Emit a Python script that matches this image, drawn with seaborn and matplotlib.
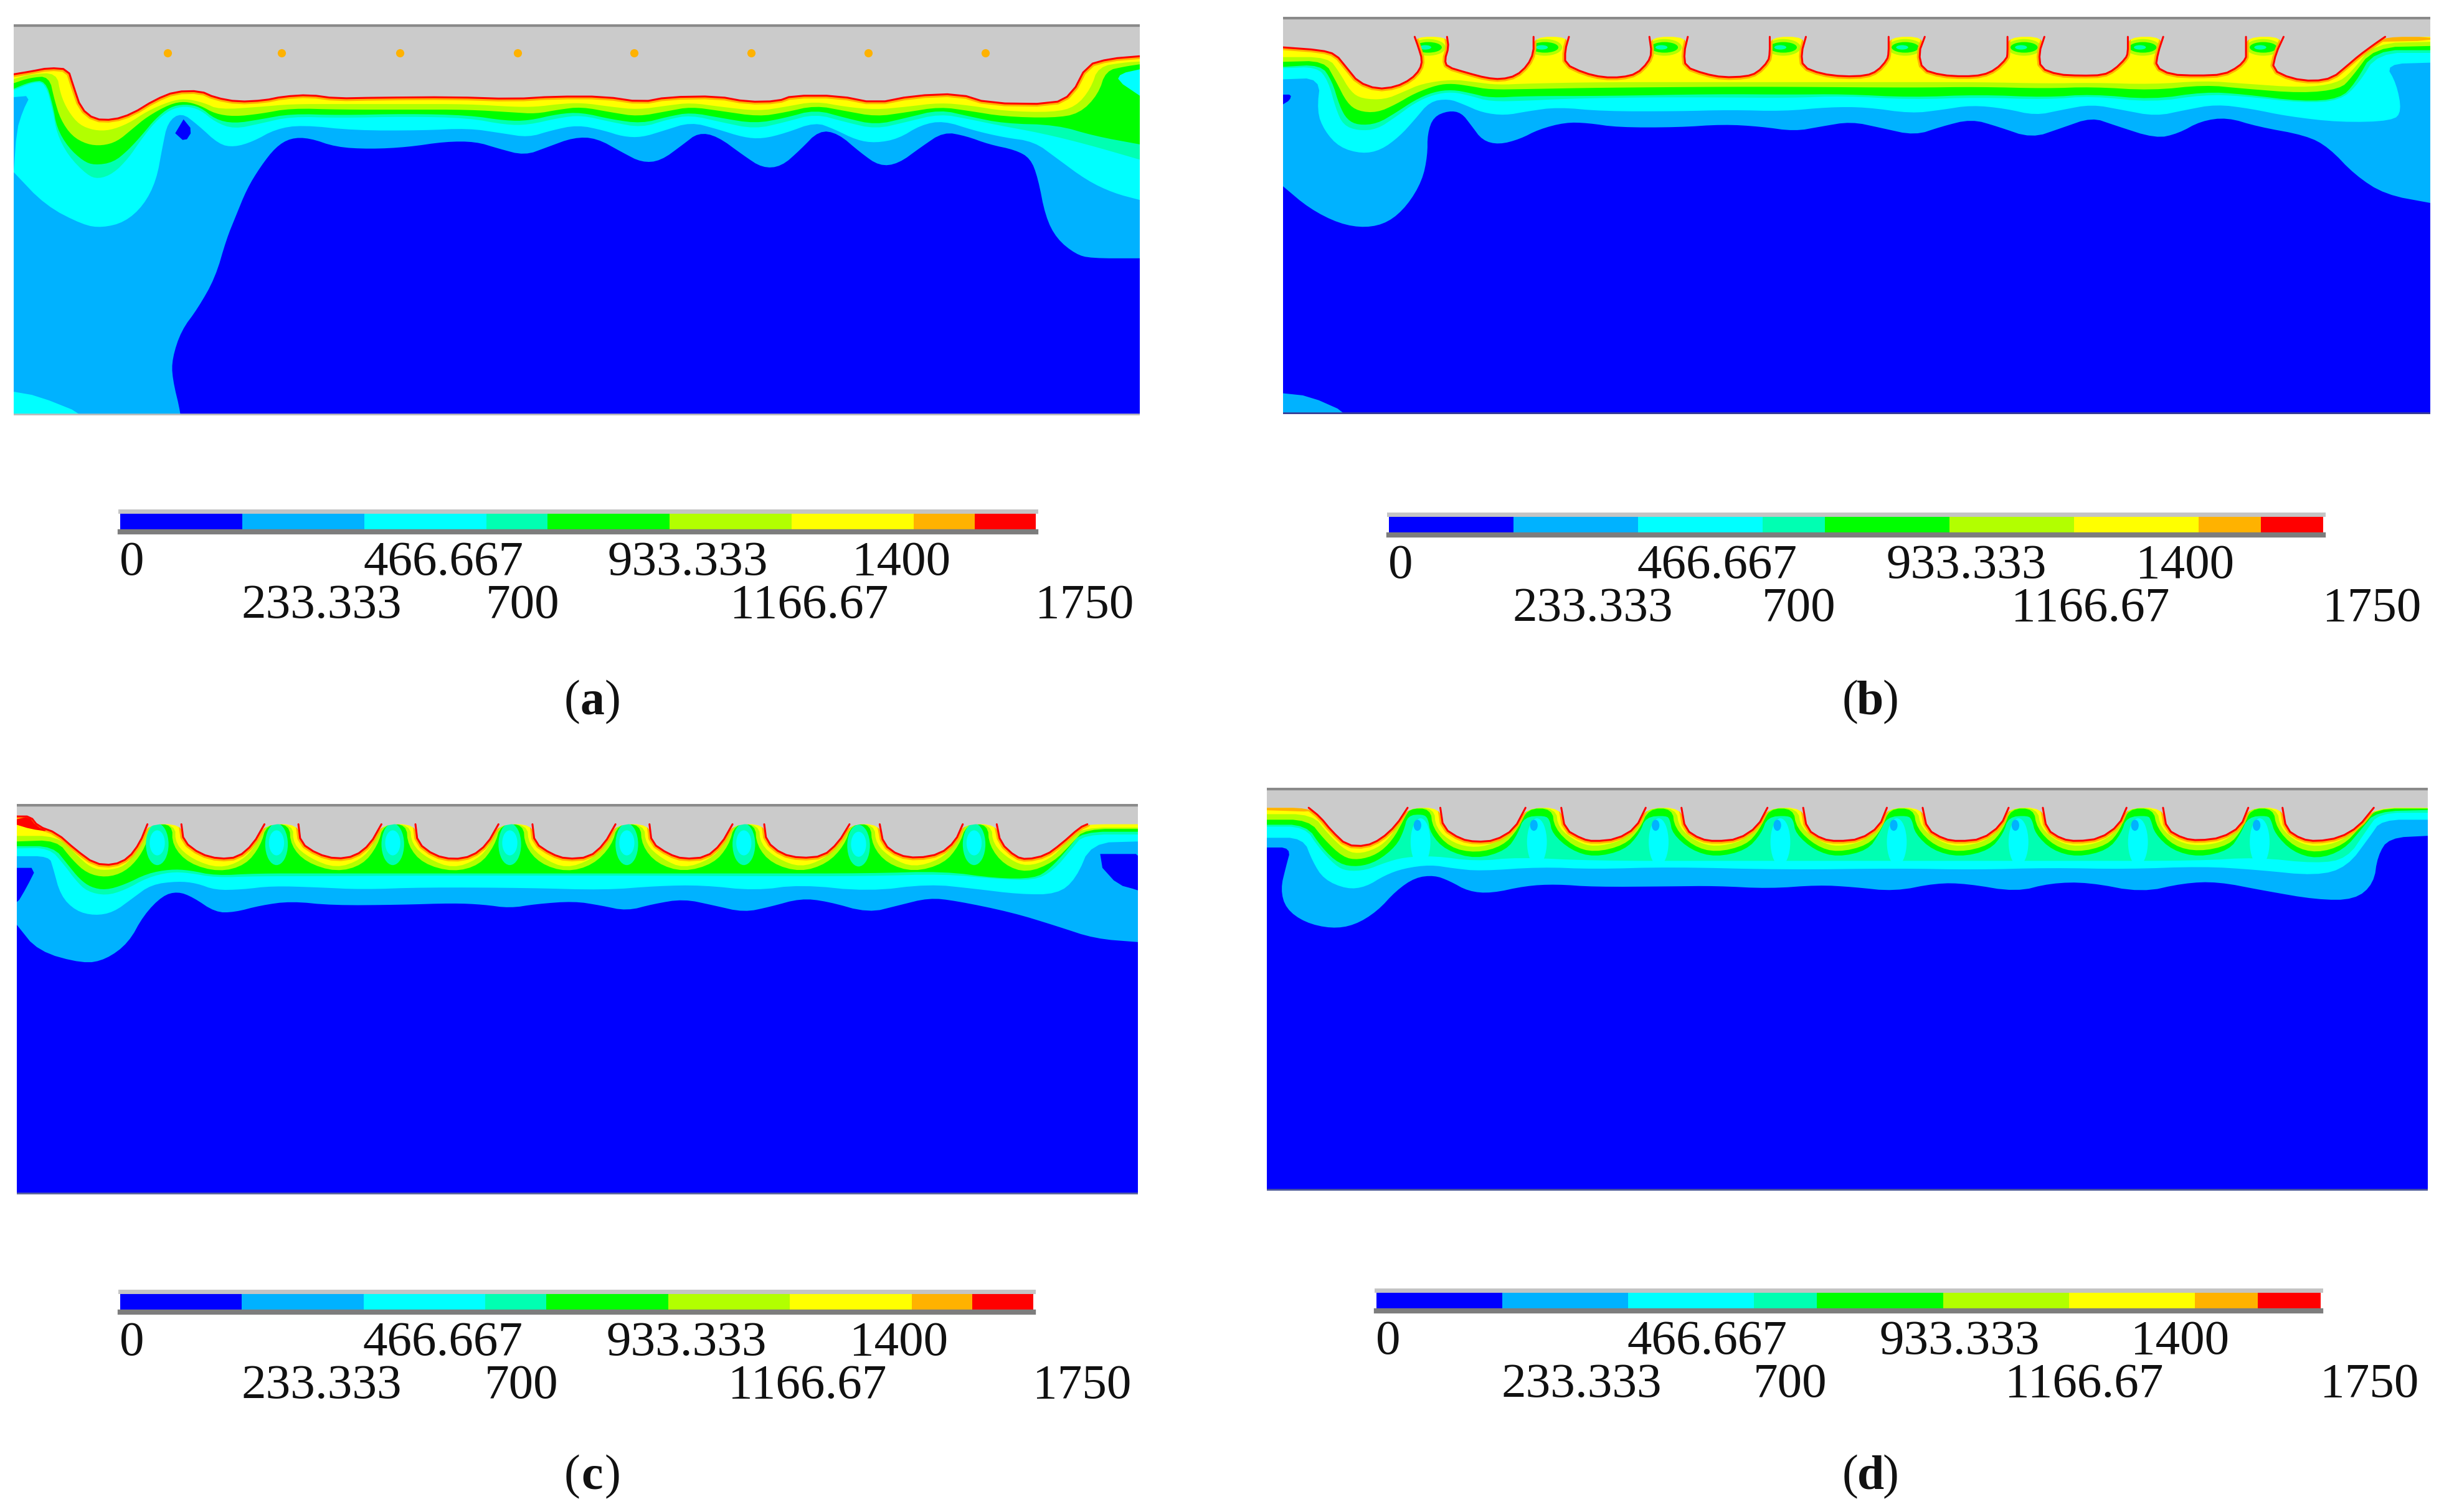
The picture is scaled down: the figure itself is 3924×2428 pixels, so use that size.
import numpy as np
import pandas as pd
import seaborn as sns
import matplotlib.pyplot as plt
from matplotlib.colors import ListedColormap
from matplotlib.patches import Ellipse

# colour bar
BAR_COLORS = ["#0000ff", "#00b2ff", "#00ffff", "#00ffb2", "#00ff00", "#b2ff00", "#ffff00", "#ffb200", "#ff0000"]
BAR_CELLS = [0, 0, 1, 1, 2, 2, 3, 4, 4, 5, 5, 6, 6, 7, 8]
BAR_VALUES_ROW1 = [0, 466.667, 933.333, 1400]
BAR_VALUES_ROW2 = [233.333, 700, 1166.67, 1750]
BAR_LABELS_ROW1 = ["0", "466.667", "933.333", "1400"]
BAR_LABELS_ROW2 = ["233.333", "700", "1166.67", "1750"]
BAR_MAX = 1750
PANEL_NAMES = ["a", "b", "c", "d"]

# panel a, contour boundaries (x along domain, depth)
A_BLUE = [(18,1560),(240,1560),(240,1495),(228,1360),(228,1290),(240,1190),(262,1110),(285,1000),(300,860),(312,780),(327,680),(345,600),(365,530),(385,497),(410,497),(445,530),(490,537),(540,530),(590,510),(630,510),(660,535),(695,560),(725,530),(760,495),(790,497),(825,550),(850,585),(875,580),(905,520),(925,478),(950,490),(985,560),(1010,605),(1035,600),(1060,540),(1085,470),(1110,480),(1140,550),(1165,598),(1190,590),(1220,530),(1250,475),(1280,490),(1310,520),(1345,540),(1365,570),(1375,640),(1385,780),(1400,860),(1425,915),(1445,930),(1510,930)]
A_CYAN = [(18,620),(60,740),(110,810),(135,820),(165,800),(190,740),(207,650),(215,530),(222,440),(240,405),(262,450),(290,520),(310,530),(335,510),(365,465),(400,450),(470,470),(560,470),(620,462),(665,480),(700,495),(730,470),(765,450),(800,470),(825,492),(850,495),(880,470),(915,440),(950,465),(985,495),(1010,500),(1040,480),(1080,440),(1105,465),(1135,505),(1160,515),(1190,500),(1220,450),(1250,435),(1290,470),(1330,495),(1370,510),(1400,570),(1440,650),(1475,695),(1510,720)]
A_AQUA = [(18,325),(45,295),(60,300),(70,400),(75,480),(90,560),(115,630),(130,645),(150,625),(170,570),(185,510),(205,440),(225,395),(245,382),(265,395),(285,440),(310,465),(345,445),(385,420),(450,425),(540,420),(620,425),(670,450),(700,450),(740,425),(770,415),(810,440),(850,460),(885,430),(915,415),(955,440),(1000,465),(1040,440),(1080,410),(1120,440),(1160,465),(1200,440),(1245,410),(1285,430),(1320,450),(1380,480),(1440,520),(1510,575)]
A_GREEN = [(18,320),(40,295),(60,290),(70,380),(75,460),(90,530),(110,580),(125,595),(150,585),(170,540),(190,480),(205,430),(225,385),(245,375),(265,385),(285,430),(310,445),(345,430),(385,410),(450,415),(540,410),(620,415),(670,435),(700,435),(740,410),(770,405),(810,430),(850,445),(885,420),(915,405),(955,425),(1000,445),(1040,425),(1080,395),(1120,425),(1160,450),(1200,425),(1245,395),(1285,420),(1330,445),(1400,450),(1450,490),(1510,520)]
A_LIME = [(18,300),(40,280),(65,275),(72,360),(80,430),(95,490),(115,520),(135,525),(155,510),(175,465),(195,420),(225,375),(245,365),(265,380),(285,410),(310,420),(345,410),(385,390),(450,395),(540,395),(620,395),(680,405),(710,410),(740,395),(770,385),(810,405),(845,420),(885,400),(915,385),(955,400),(1005,420),(1040,405),(1080,380),(1120,400),(1160,420),(1200,405),(1245,385),(1285,400),(1330,420),(1395,425),(1430,410),(1455,340),(1465,255),(1490,240),(1510,232)]
A_YELLOW = [(18,285),(40,268),(75,262),(80,340),(90,400),(105,450),(125,470),(145,470),(170,445),(195,400),(225,365),(245,355),(270,370),(290,395),(345,385),(385,375),(450,375),(540,375),(620,375),(680,385),(710,385),(740,375),(770,370),(810,385),(845,395),(885,380),(915,370),(955,385),(1005,400),(1040,385),(1080,365),(1120,385),(1160,395),(1200,385),(1245,370),(1285,380),(1330,400),(1395,405),(1425,385),(1445,320),(1455,240),(1490,225),(1510,222)]
A_SURFACE = [(18,268),(40,258),(65,245),(90,250),(97,310),(107,390),(125,430),(150,432),(175,410),(205,360),(232,330),(265,328),(285,352),(315,367),(350,362),(375,348),(410,342),(445,355),(500,352),(600,350),(680,357),(735,348),(800,348),(850,368),(885,350),(950,347),(990,367),(1030,365),(1050,345),(1110,345),(1160,372),(1210,345),(1270,338),(1310,372),(1395,375),(1420,340),(1440,235),(1470,212),(1510,203)]
A_PATCHES = [
    (1, [(18,350),(40,345),(30,400),(22,470),(18,620)]),
    (2, [(1510,250),(1485,265),(1480,290),(1510,345)]),
    (2, [(18,1410),(50,1425),(110,1490),(110,1530),(18,1530)]),
    (0, [(243,430),(255,470),(245,512),(232,480)]),
]
A_DOTS_X = [222, 373, 530, 686, 840, 995, 1150, 1305]
A_DOTS_Y = [192, 192, 192, 192, 192, 192, 192, 192]

# panel b
B_BLUE = [(25,670),(60,750),(100,805),(135,820),(165,800),(190,740),(210,650),(217,560),(217,480),(225,420),(245,398),(262,405),(275,450),(290,505),(312,520),(340,500),(365,465),(400,440),(430,442),(470,458),(550,458),(610,447),(660,455),(705,472),(740,455),(780,437),(820,460),(865,487),(900,455),(940,428),(975,455),(1020,497),(1060,460),(1100,422),(1130,450),(1185,498),(1215,480),(1245,435),(1280,422),(1320,455),(1385,487),(1415,530),(1450,630),(1490,700),(1550,730)]
B_CYAN = [(25,285),(75,280),(70,400),(80,470),(100,530),(130,553),(155,540),(180,490),(200,430),(220,365),(245,355),(265,375),(290,405),(320,415),(350,400),(390,385),(450,400),(550,400),(620,395),(690,400),(750,385),(800,385),(860,408),(900,395),(940,378),(985,390),(1025,415),(1060,395),(1100,375),(1140,395),(1185,418),(1225,395),(1265,375),(1310,390),(1360,418),(1430,440),(1500,435),(1512,400),(1505,300),(1490,230),(1550,225)]
B_AQUA = [(25,245),(70,240),(85,290),(95,390),(105,450),(125,470),(150,465),(175,420),(200,370),(225,340),(250,330),(275,345),(300,365),(350,362),(400,355),(500,350),(600,350),(700,352),(770,345),(860,358),(950,350),(1040,358),(1100,345),(1180,368),(1250,340),(1300,345),(1380,370),(1430,362),(1455,300),(1480,190),(1550,190)]
B_GREEN = [(25,240),(75,232),(90,290),(100,380),(110,430),(125,450),(150,445),(175,405),(200,360),(225,330),(250,322),(275,335),(300,352),(350,345),(450,345),(600,338),(700,340),(770,338),(860,350),(950,340),(1040,350),(1100,338),(1180,358),(1250,330),(1300,338),(1380,365),(1430,355),(1450,300),(1475,180),(1550,180)]
B_LIME = [(25,222),(80,218),(95,290),(110,370),(125,400),(150,405),(175,375),(200,335),(230,305),(250,300),(275,310),(300,322),(350,320),(450,315),(600,312),(700,312),(860,315),(950,312),(1040,318),(1100,312),(1180,325),(1250,305),(1300,318),(1380,335),(1430,320),(1445,280),(1475,170),(1550,165)]
B_YELLOW = [(25,205),(85,205),(100,260),(115,330),(130,355),(160,358),(185,330),(210,300),(250,285),(280,295),(310,305),(350,300),(450,295),(600,295),(700,295),(860,295),(950,295),(1040,300),(1100,297),(1180,303),(1250,290),(1300,300),(1380,315),(1425,300),(1445,260),(1475,155),(1550,150)]
B_SURFACE = [(25,170),(75,180),(95,195),(110,245),(125,295),(150,320),(175,312),(195,285),(207,250),(210,215),(205,170),(200,132),(243,132),(245,170),(240,215),(243,240),(270,262),(295,280),(315,285),(335,272),(350,235),(358,190),(358,132),(405,132),(400,180),(400,230),(425,262),(450,278),(475,278),(495,265),(510,225),(515,190),(512,132),(563,132),(558,190),(560,240),(585,265),(610,278),(640,275),(655,262),(670,220),(672,190),(672,132),(720,132),(714,190),(716,240),(740,265),(770,275),(800,272),(815,255),(828,215),(830,190),(830,132),(878,132),(870,190),(875,250),(900,270),(930,275),(955,270),(972,250),(987,210),(988,190),(988,132),(1037,132),(1030,190),(1032,245),(1055,268),(1085,272),(1115,270),(1130,250),(1145,210),(1148,190),(1148,132),(1195,132),(1188,190),(1185,240),(1205,268),(1240,272),(1275,268),(1295,240),(1305,210),(1305,190),(1305,132),(1355,132),(1345,190),(1340,250),(1365,282),(1395,292),(1420,280),(1440,235),(1455,200),(1475,160),(1490,132),(1550,132)]
B_PATCHES = [
    (0, [(25,340),(36,340),(34,360),(25,375)]),
    (1, [(25,1415),(60,1425),(110,1485),(110,1530),(25,1530)]),
    (7, [(1490,132),(1550,132),(1550,146),(1482,150)]),
]
B_POST_X = [218, 373, 532, 690, 852, 1010, 1168, 1328]
B_POST_Y = [170, 170, 170, 170, 170, 170, 170, 170]

# panel c
C_BLUE = [(22,505),(50,600),(110,645),(140,630),(170,570),(190,470),(215,400),(235,385),(255,405),(285,460),(310,460),(345,435),(385,420),(440,435),(530,433),(600,427),(640,432),(675,445),(710,430),(760,420),(795,435),(830,455),(865,430),(905,412),(945,435),(985,460),(1020,440),(1060,410),(1095,420),(1150,462),(1190,435),(1230,408),(1265,418),(1340,460),(1400,510),(1450,555),(1507,567)]
C_CYAN = [(22,258),(65,258),(70,300),(80,400),(100,455),(125,472),(150,460),(175,410),(200,360),(235,348),(260,355),(285,380),(320,378),(360,365),(420,370),(480,378),(560,370),(700,372),(800,380),(870,365),(930,362),(1000,382),(1060,360),(1150,385),(1230,358),(1290,375),(1350,395),(1400,395),(1425,340),(1445,210),(1507,205)]
C_AQUA = [(22,230),(65,228),(85,290),(100,345),(115,385),(140,400),(165,380),(195,335),(225,315),(250,318),(285,335),(340,330),(420,330),(550,328),(700,328),(850,328),(1000,330),(1150,330),(1250,322),(1320,340),(1370,345),(1395,310),(1420,230),(1435,180),(1507,180)]
C_GREEN = [(22,222),(70,222),(90,290),(105,340),(120,370),(140,380),(165,360),(195,320),(225,305),(250,308),(285,328),(340,320),(420,320),(550,320),(700,320),(850,320),(1000,320),(1150,320),(1250,312),(1320,338),(1370,338),(1390,305),(1415,230),(1432,170),(1507,170)]
C_LIME = [(22,205),(75,200),(95,270),(115,320),(140,335),(165,315),(185,260),(197,190),(200,143),(228,143),(228,220),(250,285),(290,315),(325,290),(345,220),(353,143),(383,143),(385,220),(405,280),(445,315),(480,290),(500,220),(508,143),(538,143),(540,220),(560,285),(600,315),(635,290),(655,220),(663,143),(693,143),(695,220),(715,285),(750,315),(785,290),(810,220),(818,143),(848,143),(850,220),(870,285),(905,315),(945,285),(965,220),(973,143),(1000,143),(1002,220),(1022,285),(1060,315),(1095,285),(1118,220),(1128,143),(1153,143),(1155,220),(1175,285),(1210,315),(1250,285),(1270,220),(1280,143),(1308,143),(1310,220),(1330,290),(1360,318),(1395,280),(1420,210),(1437,160),(1507,160)]
C_YELLOW = [(22,185),(75,185),(100,250),(120,300),(140,310),(165,295),(180,240),(190,180),(193,143),(232,143),(232,215),(255,270),(290,302),(320,275),(340,215),(348,143),(388,143),(388,215),(410,265),(445,302),(478,270),(495,215),(503,143),(543,143),(545,215),(567,268),(600,302),(632,270),(650,215),(658,143),(698,143),(700,215),(720,268),(750,302),(783,270),(805,215),(813,143),(853,143),(855,215),(877,268),(905,302),(940,270),(960,215),(968,143),(1005,143),(1007,215),(1030,268),(1060,298),(1090,270),(1113,215),(1123,143),(1158,143),(1160,215),(1182,268),(1210,298),(1245,270),(1265,215),(1273,143),(1313,143),(1315,215),(1338,272),(1360,295),(1390,270),(1412,210),(1432,155),(1507,155)]
C_SURFACE = [(22,115),(40,115),(50,150),(75,175),(100,235),(125,285),(150,290),(170,265),(185,210),(195,143),(240,143),(243,205),(265,250),(290,268),(315,262),(335,215),(350,143),(395,143),(398,210),(420,250),(445,268),(470,258),(490,215),(505,143),(550,143),(553,210),(575,255),(600,270),(625,258),(645,215),(660,143),(705,143),(708,210),(730,250),(750,268),(780,262),(800,215),(815,143),(860,143),(863,210),(885,250),(905,268),(935,262),(955,215),(970,143),(1012,143),(1015,205),(1035,250),(1060,265),(1090,258),(1110,210),(1125,143),(1165,143),(1170,215),(1190,255),(1215,265),(1245,250),(1265,205),(1275,143),(1320,143),(1325,210),(1345,260),(1360,270),(1385,255),(1405,215),(1430,155),(1440,143),(1507,143)]
C_PATCHES = [
    (0, [(22,300),(48,300),(35,370),(22,430),(10,430),(10,300)]),
    (0, [(1457,250),(1520,250),(1520,395),(1507,380),(1480,360),(1460,300)]),
    (8, [(22,125),(38,115),(48,150),(65,170),(40,160),(22,145)]),
]
C_POST_X = [208, 366, 520, 675, 830, 985, 1137, 1290]
C_POST_Y = [215, 215, 215, 215, 215, 215, 220, 215]

# panel d
D_BLUE = [(20,270),(52,270),(45,340),(38,420),(45,490),(70,540),(105,562),(135,550),(165,500),(190,425),(215,378),(240,370),(260,390),(285,428),(315,435),(360,408),(400,402),(450,412),(550,410),(610,408),(680,418),(745,405),(790,412),(845,428),(900,398),(940,400),(1005,430),(1050,398),(1100,395),(1170,432),(1225,398),(1270,393),(1330,425),(1400,458),(1450,458),(1475,400),(1480,300),(1495,235),(1546,228)]
D_CYAN = [(20,235),(68,235),(80,320),(95,385),(125,420),(150,412),(175,370),(200,345),(235,332),(265,345),(300,355),(380,340),(450,348),(550,340),(700,350),(850,345),(950,350),(1050,343),(1150,348),(1250,338),(1320,350),(1400,372),(1440,340),(1470,230),(1485,170),(1546,170)]
D_AQUA = [(20,195),(70,195),(88,270),(110,335),(125,355),(150,352),(175,325),(200,305),(240,300),(295,320),(350,305),(450,318),(610,318),(770,318),(930,318),(1085,318),(1245,318),(1320,305),(1400,328),(1440,310),(1465,210),(1482,145),(1546,145)]
D_GREEN = [(20,188),(72,188),(92,270),(115,330),(140,340),(165,320),(190,265),(200,210),(205,155),(225,150),(232,165),(235,220),(255,280),(295,312),(335,280),(350,220),(358,160),(385,155),(392,170),(395,220),(420,280),(450,305),(490,280),(510,220),(518,160),(545,155),(550,170),(553,220),(578,280),(610,305),(650,280),(670,220),(678,160),(705,155),(712,170),(715,220),(740,280),(770,305),(810,280),(825,220),(835,160),(862,155),(868,170),(872,220),(895,280),(930,305),(970,280),(988,220),(995,160),(1020,155),(1026,170),(1030,220),(1052,280),(1085,305),(1125,280),(1143,220),(1150,160),(1178,155),(1182,170),(1187,220),(1210,280),(1245,305),(1285,280),(1300,220),(1310,160),(1335,155),(1340,170),(1345,220),(1368,285),(1400,312),(1435,280),(1460,200),(1478,140),(1546,135)]
D_LIME = [(20,170),(75,170),(95,240),(120,305),(140,315),(165,295),(185,245),(200,170),(207,130),(235,130),(238,200),(260,270),(295,290),(330,265),(350,205),(362,130),(395,130),(398,200),(422,265),(450,288),(490,262),(510,205),(522,130),(553,130),(556,200),(580,265),(610,288),(650,262),(668,205),(680,130),(712,130),(716,200),(742,265),(770,288),(810,262),(828,205),(838,130),(870,130),(874,200),(898,265),(930,288),(970,262),(988,205),(998,130),(1028,130),(1032,200),(1055,265),(1085,288),(1125,262),(1142,205),(1152,130),(1185,130),(1190,200),(1212,265),(1245,285),(1285,262),(1302,205),(1313,130),(1343,130),(1347,200),(1370,268),(1400,290),(1435,262),(1458,195),(1476,130),(1546,130)]
D_YELLOW = [(20,150),(80,150),(100,220),(125,285),(145,292),(170,265),(187,215),(202,140),(207,128),(240,128),(242,200),(265,255),(295,272),(325,250),(348,200),(360,128),(400,128),(403,200),(428,250),(450,268),(485,248),(507,200),(518,128),(558,128),(562,200),(585,250),(610,268),(645,248),(667,195),(678,128),(718,128),(722,200),(748,250),(770,268),(805,248),(826,195),(836,128),(875,128),(880,200),(905,250),(930,268),(965,248),(987,195),(996,128),(1033,128),(1037,200),(1060,250),(1085,268),(1120,248),(1142,195),(1150,128),(1190,128),(1195,200),(1218,250),(1245,265),(1280,248),(1300,195),(1310,128),(1348,128),(1352,200),(1375,252),(1400,268),(1432,248),(1456,195),(1475,128),(1546,128)]
D_SURFACE = [(20,127),(75,127),(90,160),(105,210),(125,262),(150,265),(170,240),(190,190),(205,127),(248,127),(252,200),(275,240),(295,250),(320,245),(345,205),(360,127),(407,127),(412,205),(435,240),(450,248),(480,240),(505,200),(518,127),(565,127),(570,205),(590,240),(610,248),(640,240),(665,195),(678,127),(725,127),(730,205),(750,240),(770,248),(800,240),(825,195),(835,127),(882,127),(888,205),(910,240),(930,248),(960,240),(985,190),(995,127),(1040,127),(1045,205),(1065,240),(1085,248),(1115,238),(1140,190),(1150,127),(1198,127),(1203,205),(1225,238),(1245,245),(1275,235),(1300,195),(1310,127),(1355,127),(1360,205),(1380,240),(1400,248),(1430,235),(1455,195),(1475,127),(1546,127)]
D_PATCHES = [
    (7, [(20,127),(75,127),(85,142),(20,136)]),
]
D_POST_X = [222, 375, 535, 695, 848, 1008, 1165, 1325]
D_POST_Y = [250, 250, 250, 250, 250, 250, 250, 250]

GRAY = "#cbcbcb"
FIG_W, FIG_H = 3924, 2428


def axes_from_pixels(fig, x0, y0, x1, y1):
    """Add axes covering a rectangle given in picture pixels."""
    return fig.add_axes([x0 / FIG_W, 1 - y1 / FIG_H, (x1 - x0) / FIG_W, (y1 - y0) / FIG_H])


def round_corners(xs, ys, passes=2):
    """Cut the corners of a traced boundary so it draws as a soft curve."""
    xs = np.asarray(xs, dtype=float)
    ys = np.asarray(ys, dtype=float)
    for _ in range(passes):
        qx = 0.75 * xs[:-1] + 0.25 * xs[1:]
        qy = 0.75 * ys[:-1] + 0.25 * ys[1:]
        rx = 0.25 * xs[:-1] + 0.75 * xs[1:]
        ry = 0.25 * ys[:-1] + 0.75 * ys[1:]
        xs = np.concatenate([[xs[0]], np.column_stack([qx, rx]).ravel(), [xs[-1]]])
        ys = np.concatenate([[ys[0]], np.column_stack([qy, ry]).ravel(), [ys[-1]]])
    return xs, ys


def fill_above(ax, points, top, color, z):
    """Fill everything between a boundary curve and the top of the domain."""
    xs, ys = round_corners([p[0] for p in points], [p[1] for p in points])
    ax.fill(list(xs) + [xs[-1], xs[0]], list(ys) + [top, top], color=color, lw=0, zorder=z)


def fill_patch(ax, points, color, z):
    """Small closed region of one colour."""
    xs, ys = round_corners([p[0] for p in points], [p[1] for p in points], passes=1)
    ax.fill(xs, ys, color=color, lw=0, zorder=z)


def surface_frame(surface, flat_level):
    """Split the heated surface in runs, leaving out the flat post tops."""
    frames = []
    run_x, run_y = [], []
    run = 0
    for i, (x, y) in enumerate(surface):
        run_x.append(x)
        run_y.append(y)
        flat_next = i + 1 < len(surface) and y == flat_level and surface[i + 1][1] == flat_level
        if flat_next or i + 1 == len(surface):
            if len(run_x) > 1:
                sx, sy = round_corners(run_x, run_y, passes=1)
                frames.append(pd.DataFrame({"x": sx, "y": sy, "run": run}))
                run += 1
            run_x, run_y = [], []
    return pd.concat(frames, ignore_index=True)


def draw_panel(ax, xlim, ylim, curves, surface, flat_level, edge_color):
    """Draw one temperature field from its band boundaries."""
    top = ylim[1]
    ax.fill([xlim[0], xlim[1], xlim[1], xlim[0]], [ylim[0], ylim[0], top, top],
            color=BAR_COLORS[0], lw=0, zorder=1)
    for i, curve in enumerate(curves):
        color = BAR_COLORS[[1, 2, 3, 4, 5, 6][i]]
        fill_above(ax, curve, top, color, 2 + i)

    line_df = surface_frame(surface, flat_level)
    sns.lineplot(data=line_df, x="x", y="y", units="run", estimator=None, sort=False,
                 color=BAR_COLORS[7], lw=6.5, ax=ax, zorder=12)
    fill_above(ax, surface, top, GRAY, 13)
    sns.lineplot(data=line_df, x="x", y="y", units="run", estimator=None, sort=False,
                 color=BAR_COLORS[8], lw=2.2, ax=ax, zorder=14)

    ax.axhline(top, color="#8a8a8a", lw=6, zorder=15)
    ax.axhline(ylim[0], color=edge_color, lw=4, zorder=15)
    ax.set_xlim(*xlim)
    ax.set_ylim(*ylim)
    ax.set_axis_off()


def draw_bar(fig, x0, y0, x1, y1):
    """Colour bar with its two rows of labels below."""
    cax = axes_from_pixels(fig, x0, y0, x1, y1)
    sns.heatmap(np.array([BAR_CELLS]), cmap=ListedColormap(BAR_COLORS), vmin=-0.5, vmax=8.5,
                cbar=False, xticklabels=False, yticklabels=False, ax=cax)
    for side in ["left", "right"]:
        cax.spines[side].set_visible(False)
    cax.spines["top"].set_visible(True)
    cax.spines["top"].set_color("#c4c4c4")
    cax.spines["top"].set_linewidth(5)
    cax.spines["bottom"].set_visible(True)
    cax.spines["bottom"].set_color("#7d7d7d")
    cax.spines["bottom"].set_linewidth(6)

    n_cells = len(BAR_CELLS)
    rows = [(BAR_VALUES_ROW1, BAR_LABELS_ROW1, -36), (BAR_VALUES_ROW2, BAR_LABELS_ROW2, -86)]
    for values, labels, offset in rows:
        for value, label in zip(values, labels):
            cax.annotate(label, xy=(value / BAR_MAX * n_cells, 0), xycoords=("data", "axes fraction"),
                         xytext=(-1, offset), textcoords="offset points",
                         ha="left", va="center", fontsize=57, color="#111111", annotation_clip=False)


def caption(fig, cx, cy, letter):
    """Caption like (a), with the letter in bold."""
    em = 56 * 100 / 72
    parts = [("(", -0.42, "normal"), (letter, 0, "bold"), (")", 0.42, "normal")]
    for text, shift, weight in parts:
        fig.text((cx + shift * em) / FIG_W, 1 - cy / FIG_H, text, ha="center", va="center",
                 fontsize=56, fontweight=weight, color="#111111")


sns.set_theme(style="white")
plt.rcParams["font.family"] = ["Liberation Serif", "DejaVu Serif"]

fig = plt.figure(figsize=(FIG_W / 100, FIG_H / 100), dpi=100)

# panel a
ax_a = axes_from_pixels(fig, 22, 39, 1830, 667)
for level, pts in A_PATCHES:
    fill_patch(ax_a, pts, BAR_COLORS[level], 9)
sns.scatterplot(x=A_DOTS_X, y=A_DOTS_Y, color=BAR_COLORS[7], s=90, marker="o", linewidth=0, ax=ax_a, zorder=16)
draw_panel(ax_a, (18, 1510), (1495, 88),
           [A_BLUE, A_CYAN, A_AQUA, A_GREEN, A_LIME, A_YELLOW], A_SURFACE, None, "#bdbdbd")

# panel b
ax_b = axes_from_pixels(fig, 2060, 27, 3902, 665)
for level, pts in B_PATCHES:
    fill_patch(ax_b, pts, BAR_COLORS[level], 9)
for px, py in zip(B_POST_X, B_POST_Y):
    ax_b.add_patch(Ellipse((px, py), 46, 60, color=BAR_COLORS[5], lw=0, zorder=9))
    ax_b.add_patch(Ellipse((px, py), 36, 38, color=BAR_COLORS[4], lw=0, zorder=10))
    ax_b.add_patch(Ellipse((px - 4, py), 16, 16, color=BAR_COLORS[3], lw=0, zorder=11))
draw_panel(ax_b, (25, 1550), (1490, 60),
           [B_BLUE, B_CYAN, B_AQUA, B_GREEN, B_LIME, B_YELLOW], B_SURFACE, 132, "#3a3f96")

# panel c
ax_c = axes_from_pixels(fig, 27, 1291, 1827, 1918)
for px, py in zip(C_POST_X, C_POST_Y):
    ax_c.add_patch(Ellipse((px, py), 30, 150, color=BAR_COLORS[3], lw=0, zorder=9))
    ax_c.add_patch(Ellipse((px, py - 5), 20, 90, color=BAR_COLORS[2], lw=0, zorder=10))
for level, pts in C_PATCHES:
    fill_patch(ax_c, pts, BAR_COLORS[level], 15 if level == 8 else 9)
draw_panel(ax_c, (22, 1507), (1475, 70),
           [C_BLUE, C_CYAN, C_AQUA, C_GREEN, C_LIME, C_YELLOW], C_SURFACE, 143, "#5f6a9c")

# panel d
ax_d = axes_from_pixels(fig, 2034, 1265, 3898, 1912)
for level, pts in D_PATCHES:
    fill_patch(ax_d, pts, BAR_COLORS[level], 9)
for px, py in zip(D_POST_X, D_POST_Y):
    ax_d.add_patch(Ellipse((px, py), 26, 170, color=BAR_COLORS[2], lw=0, zorder=9))
    ax_d.add_patch(Ellipse((px - 4, py - 60), 10, 40, color=BAR_COLORS[1], lw=0, zorder=10))
draw_panel(ax_d, (20, 1546), (1505, 55),
           [D_BLUE, D_CYAN, D_AQUA, D_GREEN, D_LIME, D_YELLOW], D_SURFACE, 127, "#4d5a98")

# colour bars
draw_bar(fig, 193, 821, 1663, 854)
draw_bar(fig, 2230, 826, 3730, 859)
draw_bar(fig, 193, 2074, 1659, 2107)
draw_bar(fig, 2210, 2072, 3726, 2105)

for name, (cx, cy) in zip(PANEL_NAMES, [(951, 1128), (3003, 1128), (951, 2372), (3003, 2372)]):
    caption(fig, cx, cy, name)

fig.savefig("out.png", dpi=100, facecolor="white")
